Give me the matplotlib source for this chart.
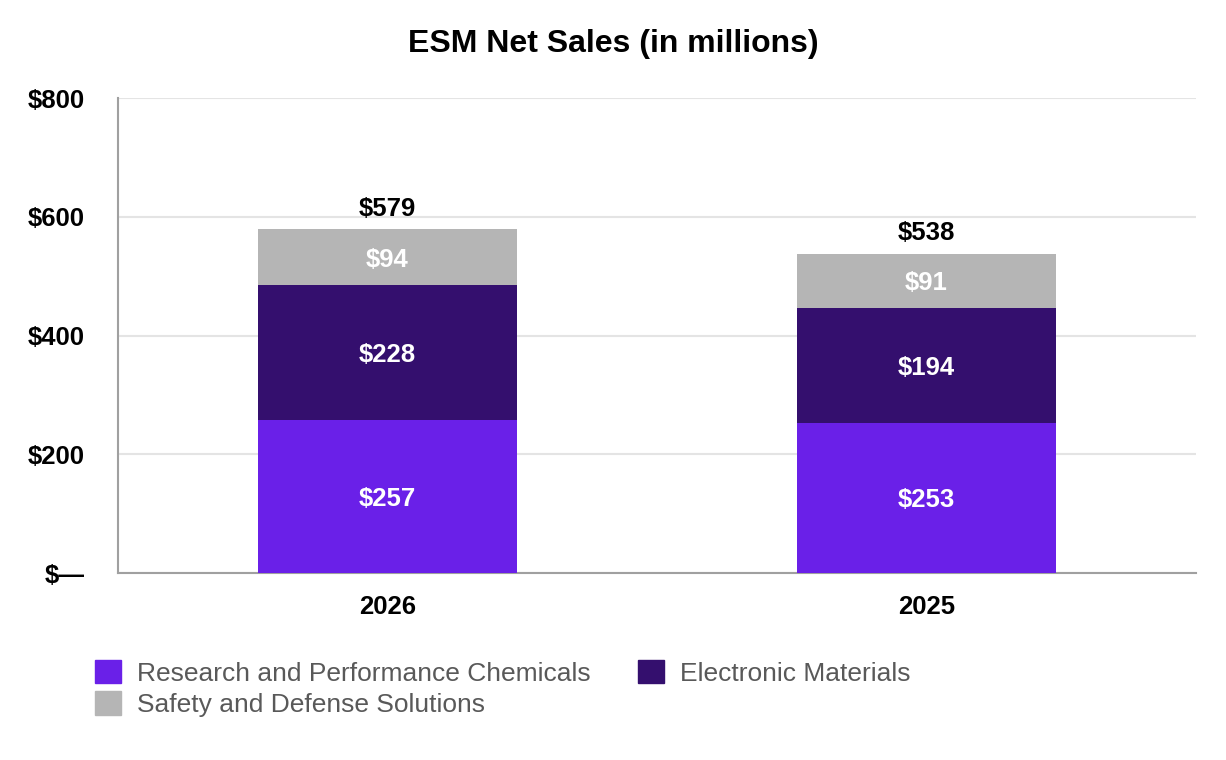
import numpy as np
import matplotlib.pyplot as plt
from matplotlib.patches import Patch

plt.rcParams["font.family"] = ["Liberation Sans", "DejaVu Sans"]

# Data
years = ["2026", "2025"]
research = [257, 253]
electronic = [228, 194]
safety = [94, 91]
totals = [579, 538]

series = ["Research and Performance Chemicals", "Electronic Materials",
          "Safety and Defense Solutions"]
colors = ["#6a20e8", "#340f6e", "#b5b5b5"]

fig = plt.figure(figsize=(12.26, 7.6), dpi=100)
ax = fig.add_axes([0.0962, 0.246, 0.8793, 0.625])

x = np.arange(len(years))
width = 0.48
bottom = np.zeros(len(years))
for vals, col in zip([research, electronic, safety], colors):
    ax.bar(x, vals, width, bottom=bottom, color=col, zorder=3)
    for xi, b, v in zip(x, bottom, vals):
        ax.text(xi, b + v / 2, f"${v}", ha="center", va="center_baseline",
                color="white", fontsize=18.5, fontweight="bold", zorder=4)
    bottom += np.array(vals)

for xi, t in zip(x, totals):
    ax.text(xi, t + 39, f"${t}", ha="center", va="center_baseline",
            color="black", fontsize=18.5, fontweight="bold")

ax.set_xlim(-0.5, 1.5)
ax.set_ylim(0, 800)
ax.set_yticks([0, 200, 400, 600, 800])
ax.set_yticklabels(["$\u2014", "$200", "$400", "$600", "$800"])
ax.set_xticks(x)
ax.set_xticklabels(years)
ax.tick_params(axis="y", length=0, pad=24, labelsize=18.5)
ax.tick_params(axis="x", length=0, pad=16, labelsize=18.5)
for lbl in ax.get_xticklabels() + ax.get_yticklabels():
    lbl.set_fontweight("bold")

ax.grid(axis="y", color="#e4e4e4", linewidth=1.5, zorder=0)
for s in ["top", "right"]:
    ax.spines[s].set_visible(False)
for s in ["left", "bottom"]:
    ax.spines[s].set_color("#a0a0a0")
    ax.spines[s].set_linewidth(1.5)

fig.text(0.5, 1 - 44 / 760, "ESM Net Sales (in millions)", ha="center", va="center",
         fontsize=23, fontweight="bold")

handles = [Patch(color=colors[0]), Patch(color=colors[2]), Patch(color=colors[1])]
labels = [series[0], series[2], series[1]]
leg = fig.legend(handles, labels, loc="upper left", bbox_to_anchor=(0.0775, 0.132),
                 ncol=2, frameon=False, fontsize=19, handlelength=1.0,
                 handleheight=1.0, handletextpad=0.6, columnspacing=1.78,
                 labelspacing=0.22, borderpad=0, borderaxespad=0)
for t in leg.get_texts():
    t.set_color("#595959")

fig.savefig("out.png", dpi=100)
